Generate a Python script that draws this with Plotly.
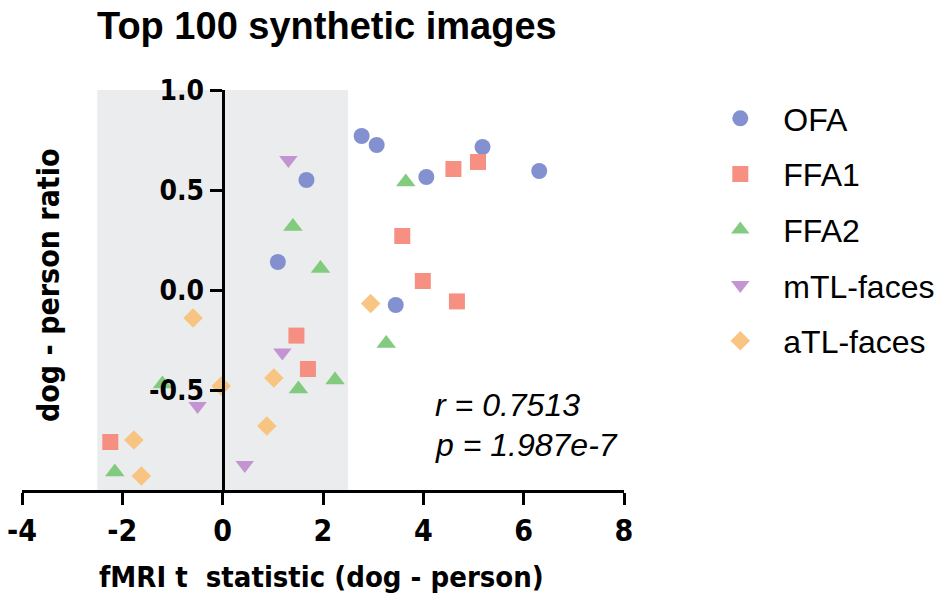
import plotly.graph_objects as go

# ---- data ----
series_names = ["OFA", "FFA1", "FFA2", "mTL-faces", "aTL-faces"]

ofa_x = [2.77, 3.07, 1.67, 4.06, 5.18, 6.31, 1.10, 3.45]
ofa_y = [0.77, 0.725, 0.55, 0.565, 0.715, 0.595, 0.14, -0.075]

ffa1_x = [4.60, 5.09, 3.58, 3.99, 4.67, 1.47, 1.70, -2.24]
ffa1_y = [0.605, 0.64, 0.27, 0.045, -0.057, -0.228, -0.395, -0.76]

ffa2_x = [3.65, 1.40, 1.95, 3.26, 2.24, 1.51, -1.20, -2.15]
ffa2_y = [0.54, 0.317, 0.108, -0.267, -0.45, -0.495, -0.47, -0.91]

mtl_x = [1.31, 1.19, 0.44, -0.50]
mtl_y = [0.65, -0.313, -0.875, -0.58]

atl_x = [2.95, 1.02, 0.88, -0.59, -0.03, -1.77, -1.62]
atl_y = [-0.067, -0.44, -0.68, -0.14, -0.48, -0.75, -0.93]

x_ticks = [-4, -2, 0, 2, 4, 6, 8]
x_tick_labels = ["-4", "-2", "0", "2", "4", "6", "8"]
y_ticks = [1.0, 0.5, 0.0, -0.5]
y_tick_labels = ["1.0", "0.5", "0.0", "-0.5"]

shade_range = [-2.5, 2.5]
stats_lines = ["r = 0.7513", "p = 1.987e-7"]

colors = ["#7d8bcf", "#f58a7b", "#7cc877", "#c28ed0", "#f8c27b"]
symbols = ["circle", "square", "triangle-up", "triangle-down", "diamond"]
sizes = [16, 16, 17, 16, 15]

xs = [ofa_x, ffa1_x, ffa2_x, mtl_x, atl_x]
ys = [ofa_y, ffa1_y, ffa2_y, mtl_y, atl_y]

narrow = "DejaVu Sans Condensed, Liberation Sans Narrow, Arial Narrow, sans-serif"
sans = "Liberation Sans, Arial, Helvetica, sans-serif"

fig = go.Figure()
for name, x, y, c, s, sz in zip(series_names, xs, ys, colors, symbols, sizes):
    fig.add_trace(go.Scatter(
        x=x, y=y, mode="markers", name=name, legendgroup=name,
        marker=dict(color=c, symbol=s, size=sz, opacity=0.95,
                    line=dict(width=0)),
    ))

fig.add_shape(type="rect", xref="x", yref="y",
              x0=shade_range[0], x1=shade_range[1], y0=-1, y1=1,
              fillcolor="#ebeced", line=dict(width=0), layer="below")

fig.add_annotation(x=4.20, y=-0.575, xref="x", yref="y",
                   text="<i>" + stats_lines[0] + "</i>", showarrow=False,
                   xanchor="left", yanchor="middle",
                   font=dict(family=sans, size=32, color="black"))
fig.add_annotation(x=4.20, y=-0.775, xref="x", yref="y",
                   text="<i>" + stats_lines[1] + "</i>", showarrow=False,
                   xanchor="left", yanchor="middle",
                   font=dict(family=sans, size=32, color="black"))

# axis titles
fig.add_annotation(x=(48 - 22) / 602, y=(490 - 285) / 400, xref="paper", yref="paper",
                   text="<b>dog - person ratio</b>", textangle=-90,
                   showarrow=False, xanchor="center", yanchor="middle",
                   font=dict(family=narrow, size=30, color="black"))
fig.add_annotation(x=(321 - 22) / 602, y=-(577 - 490) / 400, xref="paper", yref="paper",
                   text="<b>fMRI t  statistic (dog - person)</b>",
                   showarrow=False, xanchor="center", yanchor="middle",
                   font=dict(family=narrow, size=29, color="black"))

fig.update_layout(
    width=941, height=597,
    margin=dict(l=22, r=317, t=90, b=107, autoexpand=False),
    paper_bgcolor="white", plot_bgcolor="white",
    title=dict(text="<b>Top 100 synthetic images</b>", xref="container", yref="container",
               x=97 / 941, xanchor="left", y=1 - 26 / 597, yanchor="middle",
               font=dict(family=sans, size=38, color="black")),
    showlegend=True,
    legend=dict(x=1.15 - 17 / 602, y=1 - 1 / 400, xanchor="left", yanchor="top",
                font=dict(family=sans, size=32, color="black"),
                traceorder="grouped", tracegroupgap=11, itemsizing="trace",
                itemwidth=76, bgcolor="rgba(0,0,0,0)"),
    xaxis=dict(range=[-4, 8], tickvals=x_ticks, ticktext=x_tick_labels,
               showgrid=False, zeroline=False,
               showline=True, linecolor="black", linewidth=3, automargin=False,
               ticks="outside", ticklen=12, tickwidth=3, tickcolor="black",
               tickfont=dict(family=narrow, size=30, color="black", weight="bold"),
               fixedrange=True),
    yaxis=dict(range=[-1, 1], tickvals=y_ticks, ticktext=y_tick_labels,
               showgrid=False, zeroline=False, anchor="free", position=1 / 3,
               showline=True, linecolor="black", linewidth=3, automargin=False,
               ticks="outside", ticklen=12, tickwidth=3, tickcolor="black",
               tickfont=dict(family=narrow, size=28, color="black", weight="bold"),
               fixedrange=True),
)

fig.write_html("out.html")
